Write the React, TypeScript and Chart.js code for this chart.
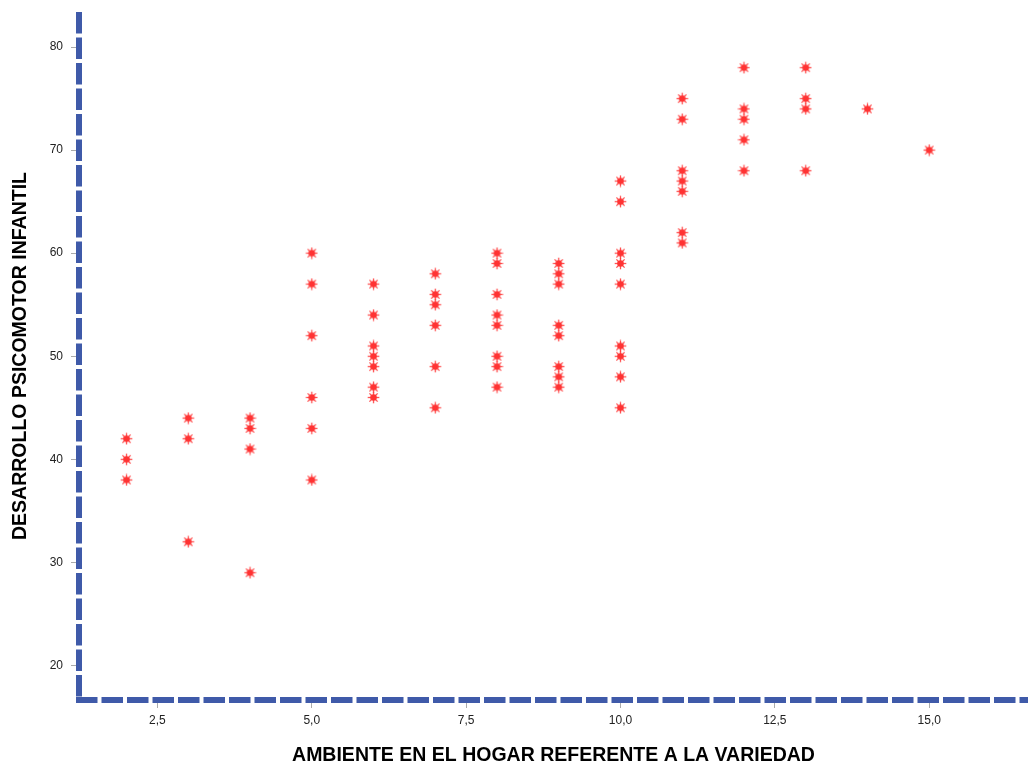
import React, { useEffect, useRef } from "react";
import { Chart, registerables } from "chart.js";

Chart.register(...registerables);

// Data: [ambiente, desarrollo]
const xValues = [
  2, 2, 2,
  3, 3, 3,
  4, 4, 4, 4,
  5, 5, 5, 5, 5, 5,
  6, 6, 6, 6, 6, 6, 6,
  7, 7, 7, 7, 7, 7,
  8, 8, 8, 8, 8, 8, 8, 8,
  9, 9, 9, 9, 9, 9, 9, 9,
  10, 10, 10, 10, 10, 10, 10, 10, 10,
  11, 11, 11, 11, 11, 11, 11,
  12, 12, 12, 12, 12,
  13, 13, 13, 13,
  14,
  15,
];
const yValues = [
  42, 40, 38,
  44, 42, 32,
  44, 43, 41, 29,
  60, 57, 52, 46, 43, 38,
  57, 54, 51, 50, 49, 47, 46,
  58, 56, 55, 53, 49, 45,
  60, 59, 56, 54, 53, 50, 49, 47,
  59, 58, 57, 53, 52, 49, 48, 47,
  67, 65, 60, 59, 57, 51, 50, 48, 45,
  75, 73, 68, 67, 66, 62, 61,
  78, 74, 73, 71, 68,
  78, 75, 74, 68,
  74,
  70,
];

const xTicks = [2.5, 5, 7.5, 10, 12.5, 15];
const yTicks = [20, 30, 40, 50, 60, 70, 80];

const xTitle = "AMBIENTE EN EL HOGAR REFERENTE A LA VARIEDAD";
const yTitle = "DESARROLLO PSICOMOTOR INFANTIL";

function makeStar(): HTMLCanvasElement {
  const c = document.createElement("canvas");
  c.width = 13;
  c.height = 13;
  const ctx = c.getContext("2d")!;
  const cx = 6.5;
  const cy = 6.5;
  ctx.strokeStyle = "rgba(255,50,50,0.85)";
  ctx.lineWidth = 1.3;
  for (let i = 0; i < 8; i++) {
    const a = (i * Math.PI) / 4;
    ctx.beginPath();
    ctx.moveTo(cx, cy);
    ctx.lineTo(cx + Math.cos(a) * 5.8, cy + Math.sin(a) * 5.8);
    ctx.stroke();
  }
  ctx.fillStyle = "#ff3333";
  ctx.beginPath();
  ctx.arc(cx, cy, 3.3, 0, Math.PI * 2);
  ctx.fill();
  return c;
}

const dashedAxes = {
  id: "dashedAxes",
  afterDraw(chart: any) {
    const { ctx, chartArea } = chart;
    const { left, right, top, bottom } = chartArea;
    ctx.save();
    ctx.strokeStyle = "#3f5aa9";
    ctx.lineWidth = 6;
    ctx.setLineDash([21.5, 4]);
    ctx.beginPath();
    ctx.moveTo(left, top);
    ctx.lineTo(left, bottom);
    ctx.stroke();
    ctx.beginPath();
    ctx.moveTo(left - 3, bottom);
    ctx.lineTo(right, bottom);
    ctx.stroke();
    ctx.restore();
  },
};

export default function App() {
  const ref = useRef<HTMLCanvasElement | null>(null);

  useEffect(() => {
    document.body.style.margin = "0";
    const canvas = ref.current!;
    const star = makeStar();
    const points = xValues.map((x, i) => ({ x, y: yValues[i] }));
    const font = "'Liberation Sans', Arial, sans-serif";
    const chart = new Chart(canvas, {
      type: "scatter",
      data: {
        datasets: [
          {
            data: points,
            pointStyle: star as any,
            pointRadius: 6,
            pointHoverRadius: 6,
            backgroundColor: "#ff3333",
            borderColor: "#ff3333",
          },
        ],
      },
      plugins: [dashedAxes],
      options: {
        animation: false,
        responsive: false,
        maintainAspectRatio: false,
        layout: { autoPadding: false, padding: { top: 12, right: 0, left: 0, bottom: 0 } },
        plugins: {
          legend: { display: false },
          tooltip: { enabled: false },
        },
        scales: {
          x: {
            type: "linear",
            min: 1.23,
            max: 16.6,
            afterBuildTicks: (scale: any) => {
              scale.ticks = xTicks.map((v) => ({ value: v }));
            },
            afterFit: (scale: any) => {
              scale.height = 64;
              scale.paddingLeft = 0;
              scale.paddingRight = 0;
            },
            grid: {
              drawOnChartArea: false,
              drawTicks: true,
              tickLength: 8,
              color: "#aaaaaa",
              lineWidth: 1,
            },
            border: { display: false },
            ticks: {
              padding: 5,
              color: "#222222",
              font: { family: font, size: 12 },
              callback: (v: any) => Number(v).toFixed(1).replace(".", ","),
            },
            title: {
              display: true,
              text: xTitle,
              color: "#000000",
              padding: { top: 0, bottom: 0 },
              font: { family: font, size: 19.5, weight: "bold", lineHeight: 0.85 },
            },
          },
          y: {
            type: "linear",
            min: 16.65,
            max: 83.4,
            afterBuildTicks: (scale: any) => {
              scale.ticks = yTicks.map((v) => ({ value: v }));
            },
            afterFit: (scale: any) => {
              scale.width = 79;
              scale.paddingTop = 0;
              scale.paddingBottom = 0;
            },
            grid: {
              drawOnChartArea: false,
              drawTicks: true,
              tickLength: 8,
              color: "#aaaaaa",
              lineWidth: 1,
            },
            border: { display: false },
            ticks: {
              padding: 8,
              color: "#222222",
              font: { family: font, size: 12 },
              callback: (v: any) => String(v),
            },
            title: {
              display: true,
              text: yTitle,
              color: "#000000",
              padding: { top: 12, bottom: 0 },
              font: { family: font, size: 19.5, weight: "bold", lineHeight: 0.85 },
            },
          },
        },
      },
    });
    return () => chart.destroy();
  }, []);

  return (
    <div style={{ width: 1028, height: 764, position: "relative" }}>
      <canvas ref={ref} width={1028} height={764} style={{ width: 1028, height: 764, display: "block" }} />
    </div>
  );
}
